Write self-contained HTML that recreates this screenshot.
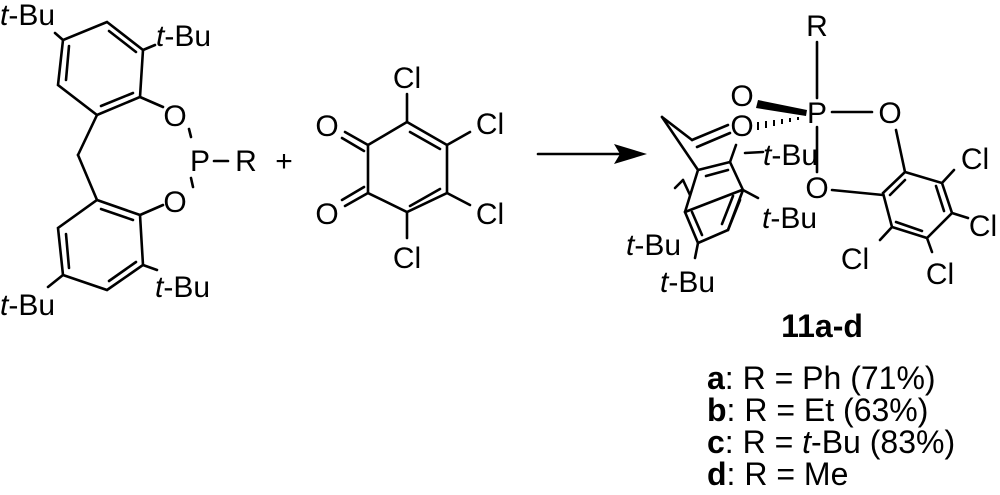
<!DOCTYPE html>
<html><head><meta charset="utf-8"><style>
html,body{margin:0;padding:0;background:#fff;}
svg{display:block;}
text{font-family:"Liberation Sans",sans-serif;fill:#000;font-size:30px;}
.big text{font-size:32px;}
</style></head><body>
<svg width="1000" height="495" viewBox="0 0 1000 495" xmlns="http://www.w3.org/2000/svg">
<g stroke="#000" stroke-width="2.6" fill="none" stroke-linecap="round">
<polygon points="107,22 143,50 140,97 97,115 58,85 63,40"/>
<line x1="69" y1="46" x2="66" y2="80"/>
<line x1="109" y1="31" x2="136" y2="52"/>
<line x1="101" y1="106" x2="133" y2="93"/>
<line x1="63" y1="40" x2="55" y2="33"/>
<line x1="143" y1="50" x2="155" y2="45"/>
<line x1="140" y1="97" x2="163" y2="107"/>
<line x1="189" y1="129" x2="191" y2="137"/>
<line x1="191" y1="178" x2="193" y2="187"/>
<line x1="214" y1="161" x2="228" y2="161"/>
<line x1="97" y1="115" x2="78" y2="155"/>
<line x1="78" y1="155" x2="97" y2="200"/>
<polygon points="97,200 140,215 143,265 107,290 63,275 58,228"/>
<line x1="101" y1="209" x2="133" y2="220"/>
<line x1="66" y1="234" x2="69" y2="268"/>
<line x1="109" y1="281" x2="136" y2="262"/>
<line x1="140" y1="215" x2="163" y2="205"/>
<line x1="143" y1="265" x2="157" y2="270"/>
<line x1="63" y1="275" x2="48" y2="287"/>
<polygon points="407,122 447,145 447,193 407,212 368,193 368,145"/>
<line x1="410" y1="132" x2="440" y2="149"/>
<line x1="440" y1="189" x2="410" y2="206"/>
<line x1="407" y1="122" x2="407" y2="94"/>
<line x1="447" y1="145" x2="470" y2="132"/>
<line x1="447" y1="193" x2="470" y2="205"/>
<line x1="407" y1="212" x2="407" y2="238"/>
<line x1="368" y1="145" x2="345" y2="132"/>
<line x1="364" y1="151" x2="342" y2="138"/>
<line x1="368" y1="193" x2="345" y2="206"/>
<line x1="364" y1="187" x2="342" y2="200"/>
<line x1="538" y1="154" x2="625" y2="154"/>
<line x1="817" y1="42" x2="817" y2="98"/>
<line x1="817" y1="127" x2="817" y2="172"/>
<line x1="832" y1="112" x2="872" y2="112"/>
<line x1="896" y1="130" x2="905" y2="172"/>
<line x1="832" y1="190" x2="883" y2="195"/>
<polygon points="905,172 942,183 952,213 927,238 892,227 883,193"/>
<line x1="905" y1="180" x2="890" y2="195"/>
<line x1="944" y1="211" x2="936" y2="186"/>
<line x1="922" y1="231" x2="896" y2="222"/>
<line x1="942" y1="183" x2="954" y2="170"/>
<line x1="952" y1="213" x2="968" y2="218"/>
<line x1="927" y1="238" x2="932" y2="252"/>
<line x1="892" y1="227" x2="880" y2="240"/>
<line x1="662" y1="117" x2="692" y2="140"/>
<line x1="662" y1="117" x2="698" y2="170"/>
<line x1="692" y1="140" x2="728" y2="125"/>
<line x1="697" y1="147" x2="730" y2="133"/>
<polygon points="698,170 730,162 743,190 728,230 698,243 685,212"/>
<line x1="706" y1="176" x2="728" y2="170"/>
<line x1="733" y1="196" x2="722" y2="224"/>
<line x1="692" y1="212" x2="702" y2="235"/>
<line x1="685" y1="212" x2="742" y2="190"/>
<line x1="683" y1="180" x2="690" y2="195"/>
<line x1="683" y1="180" x2="675" y2="188"/>
<line x1="730" y1="162" x2="736" y2="145"/>
<line x1="745" y1="153" x2="763" y2="152"/>
<line x1="743" y1="190" x2="758" y2="198"/>
<line x1="698" y1="243" x2="695" y2="258"/>
<line x1="728" y1="230" x2="740" y2="200"/>
</g>
<polygon points="647,154 614,144 620,154 614,164" fill="#000"/>
<polygon points="758,100 807,110 806,116 756,108" fill="#000"/>
<g stroke="#000" stroke-width="2">
<line x1="758" y1="122" x2="758" y2="130"/>
<line x1="766" y1="121" x2="766" y2="128"/>
<line x1="774" y1="120" x2="774" y2="126"/>
<line x1="782" y1="119" x2="782" y2="124"/>
<line x1="790" y1="118" x2="790" y2="122"/>
<line x1="798" y1="117" x2="798" y2="120"/>
</g>
<g>
<text x="0" y="25"><tspan font-style="italic">t</tspan>-Bu</text>
<text x="156" y="46"><tspan font-style="italic">t</tspan>-Bu</text>
<text x="175" y="126" text-anchor="middle">O</text>
<text x="200" y="171" text-anchor="middle">P</text>
<text x="246" y="171" text-anchor="middle">R</text>
<text x="284" y="171" text-anchor="middle">+</text>
<text x="175" y="212" text-anchor="middle">O</text>
<text x="155" y="297"><tspan font-style="italic">t</tspan>-Bu</text>
<text x="0" y="315"><tspan font-style="italic">t</tspan>-Bu</text>
<text x="407" y="88" text-anchor="middle">Cl</text>
<text x="490" y="134" text-anchor="middle">Cl</text>
<text x="490" y="224" text-anchor="middle">Cl</text>
<text x="407" y="268" text-anchor="middle">Cl</text>
<text x="327" y="136" text-anchor="middle">O</text>
<text x="327" y="224" text-anchor="middle">O</text>
<text x="817" y="36" text-anchor="middle">R</text>
<text x="817" y="123" text-anchor="middle">P</text>
<text x="742" y="106" text-anchor="middle">O</text>
<text x="742" y="136" text-anchor="middle">O</text>
<text x="890" y="123" text-anchor="middle">O</text>
<text x="817" y="198" text-anchor="middle">O</text>
<text x="763" y="165"><tspan font-style="italic">t</tspan>-Bu</text>
<text x="762" y="228"><tspan font-style="italic">t</tspan>-Bu</text>
<text x="626" y="255"><tspan font-style="italic">t</tspan>-Bu</text>
<text x="660" y="292"><tspan font-style="italic">t</tspan>-Bu</text>
<text x="975" y="169" text-anchor="middle">Cl</text>
<text x="983" y="236" text-anchor="middle">Cl</text>
<text x="940" y="284" text-anchor="middle">Cl</text>
<text x="855" y="269" text-anchor="middle">Cl</text>
</g>
<g class="big">
<text x="822" y="337" text-anchor="middle" font-weight="bold">11a-d</text>
<text x="707" y="389"><tspan font-weight="bold">a</tspan>: R = Ph (71%)</text>
<text x="707" y="421"><tspan font-weight="bold">b</tspan>: R = Et (63%)</text>
<text x="707" y="453"><tspan font-weight="bold">c</tspan>: R = <tspan font-style="italic">t</tspan>-Bu (83%)</text>
<text x="707" y="485"><tspan font-weight="bold">d</tspan>: R = Me</text>
</g>
</svg>
</body></html>
